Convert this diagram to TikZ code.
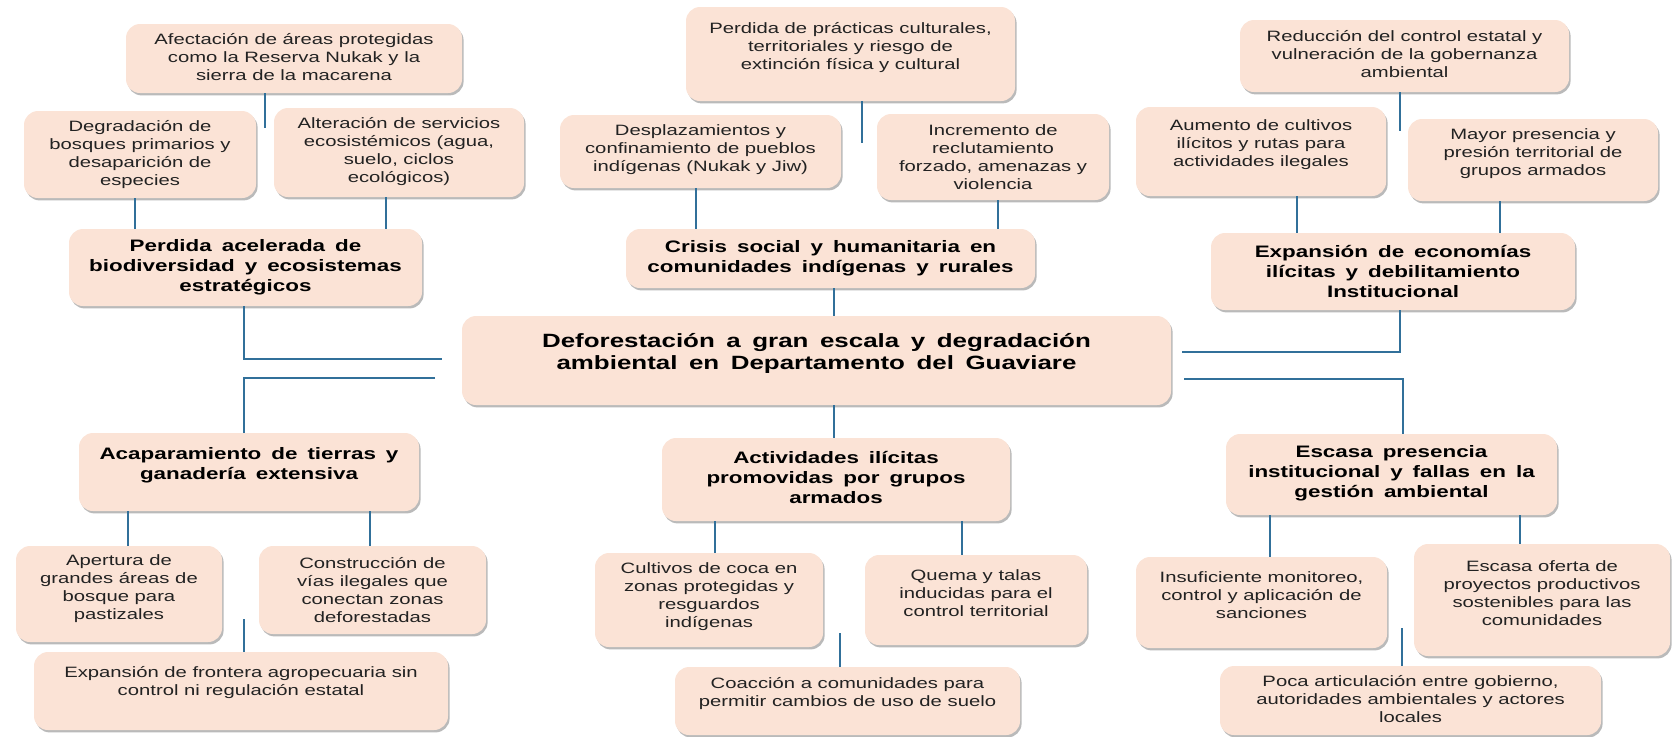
\documentclass[tikz,border=0pt]{standalone}
\usepackage{fontspec}
\setmainfont{Liberation Sans}[FakeStretch=1.35, BoldFeatures={WordSpace=1.6}]
\usetikzlibrary{shadows,fit,calc}
\definecolor{boxfill}{HTML}{FBE3D6}
\definecolor{conn}{HTML}{31709A}
\definecolor{txtgrey}{HTML}{222222}
\newcommand\mybox[8]{%
  \node[box, fit={(#2,#3) (#4,#5)}] (#1) {};
  \node[#7] (#1t) at ($(#1.center)+(0,#6)$) {#8};
}
\begin{document}
\begin{tikzpicture}[x=0.5pt,y=-0.5pt,
  box/.style={fill=boxfill, rounded corners=7pt, inner sep=0pt,
    drop shadow={shadow xshift=0.8pt, shadow yshift=-1.2pt, opacity=0.45, fill=black!60}},
  leaf/.style={align=center, font=\fontsize{7.5}{9}\selectfont, text=txtgrey, inner sep=0pt},
  hdr/.style={align=center, font=\bfseries\fontsize{8.3}{10}\selectfont, text=black, inner sep=0pt},
  ctr/.style={align=center, font=\bfseries\fontsize{9.6}{11.3}\selectfont, text=black, inner sep=0pt},
  link/.style={draw=conn, line width=1pt}]
\useasboundingbox (0,0) rectangle (1673,736);

% left column
\mybox{A1}{126}{24}{462}{93}{-1}{leaf}{Afectación de áreas protegidas\\como la Reserva Nukak y la\\sierra de la macarena}
\mybox{A2}{24}{111}{256}{198}{0}{leaf}{Degradación de\\bosques primarios y\\desaparición de\\especies}
\mybox{A3}{274}{108}{524}{197}{-1}{leaf}{Alteración de servicios\\ecosistémicos (agua,\\suelo, ciclos\\ecológicos)}
\mybox{A}{69}{229}{422}{306}{0}{hdr}{Perdida acelerada de\\biodiversidad y ecosistemas\\estratégicos}

% middle column (top)
\mybox{M1}{686}{7}{1015}{101}{-6}{leaf}{Perdida de prácticas culturales,\\territoriales y riesgo de\\extinción física y cultural}
\mybox{M2}{560}{115}{841}{188}{-2}{leaf}{Desplazamientos y\\confinamiento de pueblos\\indígenas (Nukak y Jiw)}
\mybox{M3}{877}{114}{1109}{200}{0}{leaf}{Incremento de\\reclutamiento\\forzado, amenazas y\\violencia}
\mybox{M}{626}{229}{1035}{288}{0}{hdr}{Crisis social y humanitaria en\\comunidades indígenas y rurales}

% right column (top)
\mybox{R1}{1240}{20}{1569}{92}{-2}{leaf}{Reducción del control estatal y\\vulneración de la gobernanza\\ambiental}
\mybox{R2}{1136}{107}{1386}{196}{-7}{leaf}{Aumento de cultivos\\ilícitos y rutas para\\actividades ilegales}
\mybox{R3}{1408}{119}{1658}{201}{-6}{leaf}{Mayor presencia y\\presión territorial de\\grupos armados}
\mybox{R}{1211}{233}{1575}{310}{0}{hdr}{Expansión de economías\\ilícitas y debilitamiento\\Institucional}

% central
\mybox{C}{462}{316}{1171}{405}{-7}{ctr}{Deforestación a gran escala y degradación\\ambiental en Departamento del Guaviare}

% bottom left
\mybox{B}{79}{433}{419}{511}{-7}{hdr}{Acaparamiento de tierras y\\ganadería extensiva}
\mybox{B1}{16}{546}{222}{642}{-5}{leaf}{Apertura de\\grandes áreas de\\bosque para\\pastizales}
\mybox{B2}{259}{546}{486}{634}{0}{leaf}{Construcción de\\vías ilegales que\\conectan zonas\\deforestadas}
\mybox{B3}{34}{652}{448}{730}{-8}{leaf}{Expansión de frontera agropecuaria sin\\control ni regulación estatal}

% bottom middle
\mybox{N}{662}{438}{1010}{521}{-2}{hdr}{Actividades ilícitas\\promovidas por grupos\\armados}
\mybox{N1}{595}{553}{823}{647}{-3}{leaf}{Cultivos de coca en\\zonas protegidas y\\resguardos\\indígenas}
\mybox{N2}{865}{555}{1087}{645}{-7}{leaf}{Quema y talas\\inducidas para el\\control territorial}
\mybox{N3}{675}{667}{1020}{735}{-7}{leaf}{Coacción a comunidades para\\permitir cambios de uso de suelo}

% bottom right
\mybox{S}{1226}{434}{1557}{515}{-1}{hdr}{Escasa presencia\\institucional y fallas en la\\gestión ambiental}
\mybox{S1}{1136}{557}{1387}{648}{-7}{leaf}{Insuficiente monitoreo,\\control y aplicación de\\sanciones}
\mybox{S2}{1414}{544}{1670}{656}{-7}{leaf}{Escasa oferta de\\proyectos productivos\\sostenibles para las\\comunidades}
\mybox{S3}{1220}{666}{1601}{735}{-1}{leaf}{Poca articulación entre gobierno,\\autoridades ambientales y actores\\locales}

% connectors left
\coordinate (cA1) at (265,128);
\draw[link] (A1.south -| cA1) -- (cA1);
\draw[link] (A2.south -| 135,0) -- (A.north -| 135,0);
\draw[link] (A3.south -| 386,0) -- (A.north -| 386,0);
\coordinate (cAC) at (442,359);
\draw[link] (A.south -| 244,0) |- (cAC);
\coordinate (cCB) at (435,378);
\draw[link] (cCB) -| (B.north -| 244,0);
\draw[link] (B.south -| 128,0) -- (B1.north -| 128,0);
\draw[link] (B.south -| 370,0) -- (B2.north -| 370,0);
\coordinate (cB3) at (244,619);
\draw[link] (cB3) -- (cB3 |- B3.north);

% connectors middle
\coordinate (cM1) at (862,143);
\draw[link] (M1.south -| cM1) -- (cM1);
\draw[link] (M2.south -| 696,0) -- (M.north -| 696,0);
\draw[link] (M3.south -| 998,0) -- (M.north -| 998,0);
\draw[link] (M.south -| 834,0) -- (C.north -| 834,0);
\draw[link] (C.south -| 834,0) -- (N.north -| 834,0);
\draw[link] (N.south -| 715,0) -- (N1.north -| 715,0);
\draw[link] (N.south -| 962,0) -- (N2.north -| 962,0);
\coordinate (cN3) at (840,633);
\draw[link] (cN3) -- (cN3 |- N3.north);

% connectors right
\coordinate (cR1) at (1400,131);
\draw[link] (R1.south -| cR1) -- (cR1);
\draw[link] (R2.south -| 1297,0) -- (R.north -| 1297,0);
\draw[link] (R3.south -| 1500,0) -- (R.north -| 1500,0);
\coordinate (cRC) at (1182,352);
\draw[link] (R.south -| 1400,0) |- (cRC);
\coordinate (cCS) at (1184,379);
\draw[link] (cCS) -| (S.north -| 1403,0);
\draw[link] (S.south -| 1270,0) -- (S1.north -| 1270,0);
\draw[link] (S.south -| 1520,0) -- (S2.north -| 1520,0);
\coordinate (cS3) at (1402,628);
\draw[link] (cS3) -- (cS3 |- S3.north);
\end{tikzpicture}
\end{document}
